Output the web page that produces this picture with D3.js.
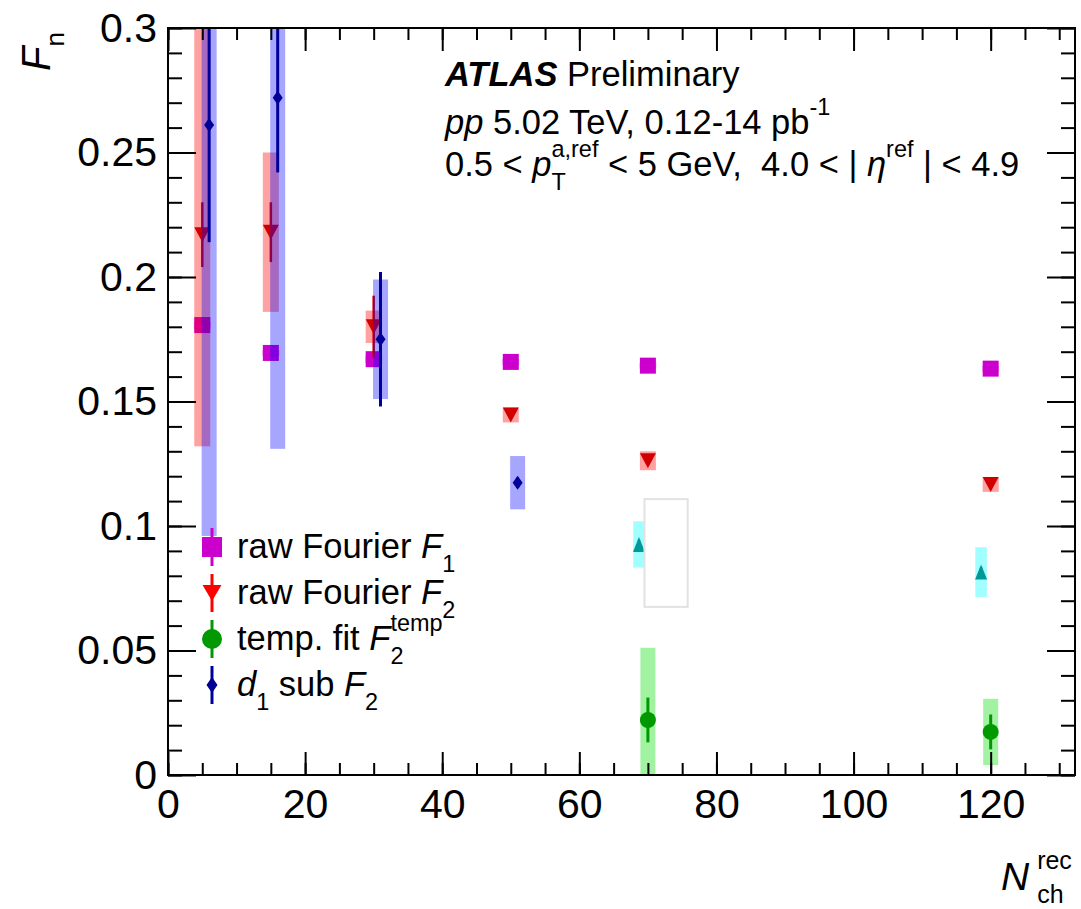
<!DOCTYPE html>
<html>
<head>
<meta charset="utf-8">
<title>F_n vs N_ch^rec</title>
<style>
  html, body { margin: 0; padding: 0; background: #fff; }
  svg text { font-family: "Liberation Sans", Arial, Helvetica, sans-serif; fill: #000; white-space: pre; }
</style>
</head>
<body>
<svg id="viz"></svg>
<script src="https://cdn.jsdelivr.net/npm/d3@7/dist/d3.min.js"></script>
<script>
// values (x = Nch rec, y = F_n, stat / sys = half widths)
var nchF1 = [5, 15, 30, 50, 70, 120];
var valF1 = [0.1807, 0.1695, 0.1670, 0.1659, 0.1644, 0.1632];
var statF1 = [0.001, 0.001, 0.001, 0.001, 0.001, 0.001];
var sysF1 = [0.0015, 0.0012, 0.0015, 0.0012, 0.0012, 0.0012];

var nchF2 = [5, 15, 30, 50, 70, 120];
var valF2 = [0.217, 0.218, 0.180, 0.1446, 0.1262, 0.1167];
var statF2 = [0.013, 0.012, 0.0125, 0.001, 0.001, 0.001];
var sysF2 = [0.085, 0.032, 0.0065, 0.003, 0.0038, 0.003];

var nchTemp = [70, 120];
var valTemp = [0.0221, 0.0173];
var statTemp = [0.009, 0.007];
var sysTemp = [0.029, 0.0133];

var nchD1 = [6, 16, 31, 51];
var valD1 = [0.261, 0.272, 0.175, 0.1174];
var statD1 = [0.047, 0.030, 0.027, 0.002];
var sysD1 = [0.165, 0.141, 0.024, 0.0107];

var nchExtra = [68.7, 118.6];
var valExtra = [0.0926, 0.0815];
var statExtra = [0.002, 0.002];
var sysExtra = [0.0093, 0.010];

// empty box left on the pad: [x0, x1, y0, y1]
var emptyBox = [69.5, 75.8, 0.0675, 0.1108];

var xMajor = [0, 20, 40, 60, 80, 100, 120];
var yMajor = [0, 0.05, 0.1, 0.15, 0.2, 0.25, 0.3];
var xMinor = d3.range(0, 131, 5);
var yMinor = d3.range(0, 31).map(function(d) { return d / 100; });

var width = 1081;
var height = 909;
var padL = 168, padR = 1075, padT = 28, padB = 775;

var x = d3.scaleLinear().domain([0, 132.3]).range([padL, padR]);
var y = d3.scaleLinear().domain([0, 0.3]).range([padB, padT]);

var svg = d3.select("#viz").attr("width", width).attr("height", height);

svg.append("defs").append("clipPath").attr("id", "plotclip")
  .append("rect")
    .attr("x", padL).attr("y", padT)
    .attr("width", padR - padL).attr("height", padB - padT);

// marker shapes, centred on 0,0
function markerPath(shape, w, h) {
  if (shape == "square") return "M" + (-w/2) + "," + (-h/2) + "h" + w + "v" + h + "h" + (-w) + "Z";
  if (shape == "tdown") return "M" + (-w/2) + "," + (-h/2) + "L" + (w/2) + "," + (-h/2) + "L0," + (h/2) + "Z";
  if (shape == "tup") return "M" + (-w/2) + "," + (h/2) + "L" + (w/2) + "," + (h/2) + "L0," + (-h/2) + "Z";
  if (shape == "diamond") return "M0," + (-h/2) + "L" + (w/2) + ",0L0," + (h/2) + "L" + (-w/2) + ",0Z";
  // circle
  var r = w / 2;
  return "M" + (-r) + ",0A" + r + "," + r + " 0 1,0 " + r + ",0A" + r + "," + r + " 0 1,0 " + (-r) + ",0Z";
}

var series = [
  {x: nchF1, y: valF1, stat: statF1, sys: sysF1, shape: "square", w: 16, h: 16, color: "#cc00cc", box: "rgba(255,0,255,0.37)", bw: 17, lw: 2.5},
  {x: nchF2, y: valF2, stat: statF2, sys: sysF2, shape: "tdown", w: 16, h: 15, color: "#d00000", box: "rgba(255,0,0,0.37)", bw: 16, lw: 2.5},
  {x: nchD1, y: valD1, stat: statD1, sys: sysD1, shape: "diamond", w: 10, h: 14, color: "#000099", box: "rgba(0,0,255,0.35)", bw: 15, lw: 3},
  {x: nchExtra, y: valExtra, stat: statExtra, sys: sysExtra, shape: "tup", w: 12, h: 15, color: "#009999", box: "rgba(0,255,255,0.37)", bw: 11.5, lw: 2.5},
  {x: nchTemp, y: valTemp, stat: statTemp, sys: sysTemp, shape: "circle", w: 16, h: 16, color: "#009900", box: "rgba(0,220,0,0.37)", bw: 15, lw: 3}
];

var plot = svg.append("g").attr("clip-path", "url(#plotclip)");

series.forEach(function(s) {
  var pts = s.x.map(function(d, i) { return {x: d, y: s.y[i], stat: s.stat[i], sys: s.sys[i]}; });
  var g = plot.append("g");
  g.selectAll("rect.sys").data(pts).enter().append("rect")
    .attr("class", "sys")
    .attr("x", function(d) { return x(d.x) - s.bw / 2; })
    .attr("width", s.bw)
    .attr("y", function(d) { return y(d.y + d.sys); })
    .attr("height", function(d) { return y(d.y - d.sys) - y(d.y + d.sys); })
    .attr("fill", s.box);
  g.selectAll("line.stat").data(pts).enter().append("line")
    .attr("class", "stat")
    .attr("x1", function(d) { return x(d.x); })
    .attr("x2", function(d) { return x(d.x); })
    .attr("y1", function(d) { return y(d.y + d.stat); })
    .attr("y2", function(d) { return y(d.y - d.stat); })
    .attr("stroke", s.color)
    .attr("stroke-width", s.lw);
  g.selectAll("path.mk").data(pts).enter().append("path")
    .attr("class", "mk")
    .attr("d", markerPath(s.shape, s.w, s.h))
    .attr("transform", function(d) { return "translate(" + x(d.x) + "," + y(d.y) + ")"; })
    .attr("fill", s.color);
});

// the empty white box with grey border
plot.append("rect")
  .attr("x", x(emptyBox[0]))
  .attr("y", y(emptyBox[3]))
  .attr("width", x(emptyBox[1]) - x(emptyBox[0]))
  .attr("height", y(emptyBox[2]) - y(emptyBox[3]))
  .attr("fill", "#fff")
  .attr("stroke", "#e2e2e2")
  .attr("stroke-width", 2);

// axes: ticks point inwards, mirrored on top and right
function styleAxis(g) {
  g.select(".domain").remove();
  g.selectAll(".tick line").attr("stroke", "#000").attr("stroke-width", 2);
  g.selectAll("text")
    .attr("font-size", 41)
    .attr("font-family", "'Liberation Sans', Arial, sans-serif");
}

var yFmt = function(d) { return d === 0 ? "0" : d3.format("~g")(d); };

svg.append("g").attr("transform", "translate(0," + padB + ")")
  .call(d3.axisBottom(x).tickValues(xMinor).tickSize(-12).tickFormat(""))
  .call(styleAxis);
svg.append("g").attr("transform", "translate(0," + padB + ")")
  .call(d3.axisBottom(x).tickValues(xMajor).tickSize(-23).tickPadding(14).tickSizeOuter(0))
  .call(styleAxis);
svg.append("g").attr("transform", "translate(0," + padT + ")")
  .call(d3.axisTop(x).tickValues(xMinor).tickSize(-12).tickFormat(""))
  .call(styleAxis);
svg.append("g").attr("transform", "translate(0," + padT + ")")
  .call(d3.axisTop(x).tickValues(xMajor).tickSize(-23).tickFormat(""))
  .call(styleAxis);

svg.append("g").attr("transform", "translate(" + padL + ",0)")
  .call(d3.axisLeft(y).tickValues(yMinor).tickSize(-14).tickFormat(""))
  .call(styleAxis);
svg.append("g").attr("transform", "translate(" + padL + ",0)")
  .call(d3.axisLeft(y).tickValues(yMajor).tickSize(-28).tickPadding(11).tickFormat(yFmt))
  .call(styleAxis);
svg.append("g").attr("transform", "translate(" + padR + ",0)")
  .call(d3.axisRight(y).tickValues(yMinor).tickSize(-14).tickFormat(""))
  .call(styleAxis);
svg.append("g").attr("transform", "translate(" + padR + ",0)")
  .call(d3.axisRight(y).tickValues(yMajor).tickSize(-28).tickFormat(""))
  .call(styleAxis);

svg.append("rect")
  .attr("x", padL).attr("y", padT)
  .attr("width", padR - padL).attr("height", padB - padT)
  .attr("fill", "none").attr("stroke", "#000").attr("stroke-width", 2);

// text with sub/superscripts; parts: {t, i, b, k, s (shift in em, + is down), dx, back}
// "back" puts the part right above/below the previous one (like ROOT's x_{a}^{b})
function rich(parent, px, py, size, parts, anchor) {
  var t = parent.append("text").attr("x", px).attr("y", py).attr("font-size", size);
  if (anchor) t.attr("text-anchor", anchor);
  var shift = 0, prev = null;
  parts.forEach(function(p) {
    var s = p.s || 0;
    var ts = t.append("tspan").text(p.t)
      .attr("font-size", size * (p.k || 1))
      .attr("dy", (s - shift) * size);
    if (p.i) ts.attr("font-style", "italic");
    if (p.b) ts.attr("font-weight", "bold");
    if (p.dx) ts.attr("dx", p.dx);
    if (p.back && prev) ts.attr("x", prev.node().getStartPositionOfChar(0).x);
    shift = s;
    prev = ts;
  });
  return t;
}

var sub = 0.4, sup = -0.55, small = 0.68;

// y title
var yt = svg.append("g").attr("transform", "translate(50,32) rotate(-90)");
rich(yt, 0, 0, 40, [{t: "F", i: true}, {t: "n", k: 0.65, s: 0.35}], "end");

// x title
rich(svg, 1001, 890, 39, [{t: "N", i: true}, {t: "ch", k: 0.64, s: 0.34, dx: 8}, {t: "rec", k: 0.64, s: -0.55, back: true}]);

// ATLAS label
var fs = 34.5;
rich(svg, 445, 86, fs, [{t: "ATLAS", b: true, i: true}, {t: " Preliminary"}]);
rich(svg, 445, 134, fs, [{t: "pp", i: true}, {t: " 5.02 TeV, 0.12-14 pb"}, {t: "-1", k: small, s: sup}]);
rich(svg, 445, 176, fs, [
  {t: "0.5 < "}, {t: "p", i: true}, {t: "T", k: small, s: sub}, {t: "a,ref", k: small, s: sup, back: true},
  {t: " < 5 GeV,  4.0 < | "}, {t: "\u03b7", i: true}, {t: "ref", k: small, s: sup}, {t: " | < 4.9"}
]);

// legend
var legendRows = [
  {shape: "square", w: 20, h: 20, color: "#cc00cc", parts: [{t: "raw Fourier "}, {t: "F", i: true}, {t: "1", k: small, s: sub}]},
  {shape: "tdown", w: 19, h: 16, color: "#ff0000", parts: [{t: "raw Fourier "}, {t: "F", i: true}, {t: "2", k: small, s: sub}]},
  {shape: "circle", w: 20, h: 20, color: "#009900", parts: [{t: "temp. fit "}, {t: "F", i: true}, {t: "2", k: small, s: sub}, {t: "temp", k: small, s: sup, back: true}]},
  {shape: "diamond", w: 11, h: 16, color: "#000099", parts: [{t: "d", i: true}, {t: "1", k: small, s: sub}, {t: " sub "}, {t: "F", i: true}, {t: "2", k: small, s: sub}]}
];
var legend = svg.append("g");
legendRows.forEach(function(r, i) {
  var cy = 547 + i * 46;
  legend.append("line")
    .attr("x1", 212).attr("x2", 212)
    .attr("y1", cy - 19).attr("y2", cy + 19)
    .attr("stroke", r.color).attr("stroke-width", 3);
  legend.append("path")
    .attr("d", markerPath(r.shape, r.w, r.h))
    .attr("transform", "translate(212," + cy + ")")
    .attr("fill", r.color);
  rich(legend, 237, cy + 11, fs, r.parts);
});
</script>
</body>
</html>
